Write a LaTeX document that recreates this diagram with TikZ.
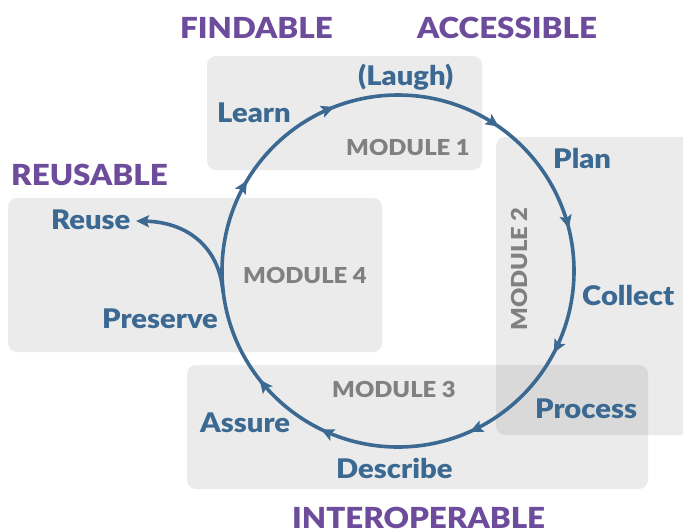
\documentclass[tikz,border=0pt]{standalone}
\usepackage{fontspec}
\setmainfont{Lato}
\newfontfamily\heavy{Lato Black}[FakeStretch=1.08]
\usetikzlibrary{arrows.meta,decorations.markings}
\definecolor{purp}{RGB}{108,76,155}
\definecolor{cblue}{RGB}{60,105,146}
\definecolor{mgray}{RGB}{128,128,130}
\begin{document}
\begin{tikzpicture}[x=1pt,y=-1pt,
  modbox/.style={fill=black, fill opacity=0.078, rounded corners=9pt},
  title/.style={text=purp, font=\fontsize{29}{30}\selectfont\heavy, inner sep=0pt, anchor=base west},
  lbl/.style={text=cblue, font=\fontsize{27}{28}\selectfont\heavy, inner sep=0pt, anchor=base west},
  modlbl/.style={text=mgray, font=\fontsize{22}{24}\selectfont\heavy, inner sep=0pt, anchor=base west},
  flow/.style={draw=cblue, line width=3.6pt},
  tipa/.tip={Stealth[length=13pt,width=12pt,inset=2.5pt]}
]
\useasboundingbox (0,0) rectangle (683,531);
\clip (0,0) rectangle (683,531);
% module boxes
\path[modbox] (207,56) rectangle (482,170);
\path[modbox] (496,137) rectangle (700,435);
\path[modbox] (187,365) rectangle (648,489);
\path[modbox] (8,198) rectangle (382,352);
% titles
\node[title] (findable) at (180,38) {FINDABLE};
\node[title] (accessible) at (417,38) {ACCESSIBLE};
\node[title] (reusable) at (11,185) {REUSABLE};
\node[title] (interop) at (292,528) {INTEROPERABLE};
% module labels
\node[modlbl] (m1) at (346,155) {MODULE 1};
\node[modlbl, rotate=90, anchor=base] (m2) at (527,269) {MODULE 2};
\node[modlbl] (m3) at (332,397) {MODULE 3};
\node[modlbl] (m4) at (243,283) {MODULE 4};
% step labels
\node[lbl] (learn) at (217,122) {Learn};
\node[lbl] (laugh) at (358,85) {(Laugh)};
\node[lbl] (plan) at (553,168) {Plan};
\node[lbl] (collect) at (582,305) {Collect};
\node[lbl] (process) at (535,418) {Process};
\node[lbl] (describe) at (336,478) {Describe};
\node[lbl] (assure) at (200,432) {Assure};
\node[lbl] (preserve) at (102,328) {Preserve};
\node[lbl] (reuse) at (51,229) {Reuse};
% cycle
\coordinate (c) at (398,271);
\draw[flow, postaction={decorate}, decoration={markings,
  mark=at position 0.077 with {\arrow{tipa}},
  mark=at position 0.183 with {\arrow{tipa}},
  mark=at position 0.322 with {\arrow{tipa}},
  mark=at position 0.394 with {\arrow{tipa}},
  mark=at position 0.586 with {\arrow{tipa}},
  mark=at position 0.691 with {\arrow{tipa}},
  mark=at position 0.847 with {\arrow{tipa}},
  mark=at position 0.961 with {\arrow{tipa}}}]
  (c) ++(0:176) arc[start angle=0, end angle=360, radius=176];
% reuse branch
\coordinate (split) at (223,292);
\coordinate (reusetip) at (136,221);
\draw[flow, -{tipa}] (split) .. controls (219,245) and (185,222) .. (reusetip);
\end{tikzpicture}
\end{document}
